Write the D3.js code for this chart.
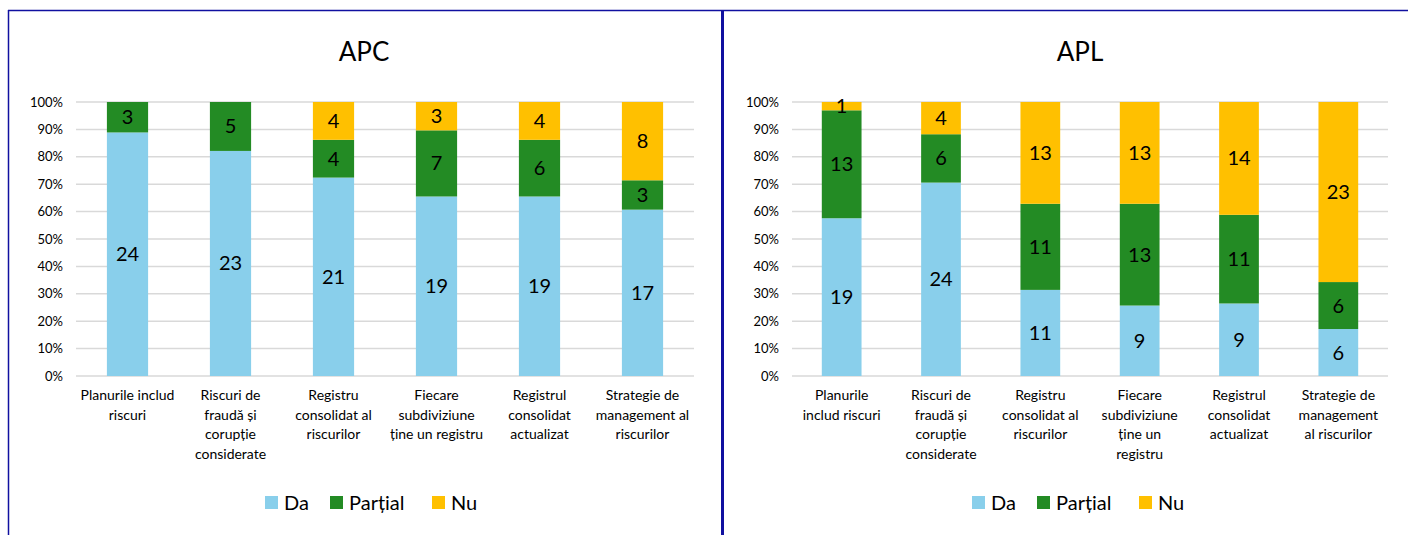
<!DOCTYPE html>
<html lang="en">
  <head>
    <meta charset="utf-8" />
    <title>APC / APL</title>
    <style>
      body { margin: 0; background: #fff; }
      svg { display: block; font-family: Lato, "Open Sans", sans-serif; }
    </style>
  </head>
  <body>
    <div id="chart"></div>
    <script src="https://d3js.org/d3.v7.min.js"></script>
    <script>
      // data
      const series = ["Da", "Parțial", "Nu"];
      const colors = ["#89CFEB", "#238B24", "#FFC000"];
      const yTicks = [0, 0.1, 0.2, 0.3, 0.4, 0.5, 0.6, 0.7, 0.8, 0.9, 1];

      const apcLabels = [
        ["Planurile includ", "riscuri"],
        ["Riscuri de", "fraudă și", "corupție", "considerate"],
        ["Registru", "consolidat al", "riscurilor"],
        ["Fiecare", "subdiviziune", "ține un registru"],
        ["Registrul", "consolidat", "actualizat"],
        ["Strategie de", "management al", "riscurilor"]
      ];
      const apcDa = [24, 23, 21, 19, 19, 17];
      const apcPartial = [3, 5, 4, 7, 6, 3];
      const apcNu = [0, 0, 4, 3, 4, 8];

      const aplLabels = [
        ["Planurile", "includ riscuri"],
        ["Riscuri de", "fraudă și", "corupție", "considerate"],
        ["Registru", "consolidat al", "riscurilor"],
        ["Fiecare", "subdiviziune", "ține un", "registru"],
        ["Registrul", "consolidat", "actualizat"],
        ["Strategie de", "management", "al riscurilor"]
      ];
      const aplDa = [19, 24, 11, 9, 9, 6];
      const aplPartial = [13, 6, 11, 13, 11, 6];
      const aplNu = [1, 4, 13, 13, 14, 23];

      const W = 1408, H = 535;
      const svg = d3.select("#chart").append("svg")
        .attr("width", W).attr("height", H);

      // panel frame
      const navy = "#1010A0";
      svg.append("line").attr("x1", 8).attr("x2", W).attr("y1", 10.5).attr("y2", 10.5)
        .attr("stroke", navy).attr("stroke-width", 1.5);
      svg.append("line").attr("x1", 8.5).attr("x2", 8.5).attr("y1", 10).attr("y2", H)
        .attr("stroke", navy).attr("stroke-width", 1.5);
      svg.append("line").attr("x1", 722.5).attr("x2", 722.5).attr("y1", 10).attr("y2", H)
        .attr("stroke", navy).attr("stroke-width", 3);

      const drawPanel = (opt) => {
        const labels = opt.labels;
        const rows = labels.map((l, i) => ({
          i: i, Da: opt.da[i], "Parțial": opt.partial[i], Nu: opt.nu[i]
        }));
        rows.forEach(r => { r.total = r.Da + r["Parțial"] + r.Nu; });

        const x = d3.scaleBand().domain(d3.range(labels.length))
          .range([opt.x0, opt.x1]).paddingInner(0.6).paddingOuter(0.3);
        const y = d3.scaleLinear().domain([0, 1]).range([376, 102]);

        const g = svg.append("g");

        // gridlines
        g.selectAll("line.grid").data(yTicks).enter().append("line")
          .attr("x1", opt.x0).attr("x2", opt.x1)
          .attr("y1", d => y(d)).attr("y2", d => y(d))
          .attr("stroke", "#d9d9d9").attr("stroke-width", 1.5);

        // y axis labels
        const yAxis = d3.axisLeft(y).tickValues(yTicks)
          .tickFormat(d3.format(".0%")).tickSize(0).tickPadding(0);
        g.append("g").attr("transform", `translate(${opt.x0 - 13},0)`)
          .call(yAxis)
          .call(s => s.select(".domain").remove())
          .selectAll("text").attr("font-size", 13).attr("fill", "#000")
          .attr("font-family", "Lato, sans-serif");

        const stack = d3.stack().keys(series)
          .value((d, k) => d[k] / d.total);
        const layers = stack(rows);

        const lg = g.selectAll("g.layer").data(layers).enter().append("g")
          .attr("fill", (d, i) => colors[i]);
        lg.selectAll("rect").data(d => d).enter().append("rect")
          .attr("x", d => x(d.data.i))
          .attr("width", x.bandwidth())
          .attr("y", d => y(d[1]))
          .attr("height", d => y(d[0]) - y(d[1]));

        // value labels
        layers.forEach(layer => {
          g.selectAll(null).data(layer.filter(d => d.data[layer.key] > 0)).enter()
            .append("text")
            .attr("x", d => x(d.data.i) + x.bandwidth() / 2)
            .attr("y", d => (y(d[0]) + y(d[1])) / 2)
            .attr("dy", "0.35em")
            .attr("text-anchor", "middle")
            .attr("font-size", 20).attr("fill", "#000")
            .text(d => d.data[layer.key]);
        });

        // category labels
        const cl = g.selectAll("text.cat").data(labels).enter().append("text")
          .attr("class", "cat")
          .attr("text-anchor", "middle")
          .attr("font-size", 14).attr("fill", "#000")
          .attr("transform", (d, i) => `translate(${x(i) + x.bandwidth() / 2},400)`);
        cl.selectAll("tspan").data(d => d).enter().append("tspan")
          .attr("x", 0).attr("y", (d, j) => j * 19.6)
          .text(d => d);

        // title
        g.append("text").attr("x", opt.titleX).attr("y", 61)
          .attr("text-anchor", "middle").attr("font-size", 26)
          .text(opt.title);

        // legend
        const leg = g.append("g").attr("transform", `translate(${opt.legendX},503)`);
        const offs = [0, 65, 167];
        series.forEach((s, i) => {
          leg.append("rect").attr("x", offs[i]).attr("y", -7)
            .attr("width", 13).attr("height", 13).attr("fill", colors[i]);
          leg.append("text").attr("x", offs[i] + 19).attr("y", 0)
            .attr("dy", "0.35em").attr("font-size", 20).text(s);
        });
      };

      drawPanel({
        title: "APC", titleX: 364, legendX: 265,
        x0: 76, x1: 694,
        labels: apcLabels, da: apcDa, partial: apcPartial, nu: apcNu
      });
      drawPanel({
        title: "APL", titleX: 1080, legendX: 972,
        x0: 792, x1: 1388,
        labels: aplLabels, da: aplDa, partial: aplPartial, nu: aplNu
      });
    </script>
  </body>
</html>
